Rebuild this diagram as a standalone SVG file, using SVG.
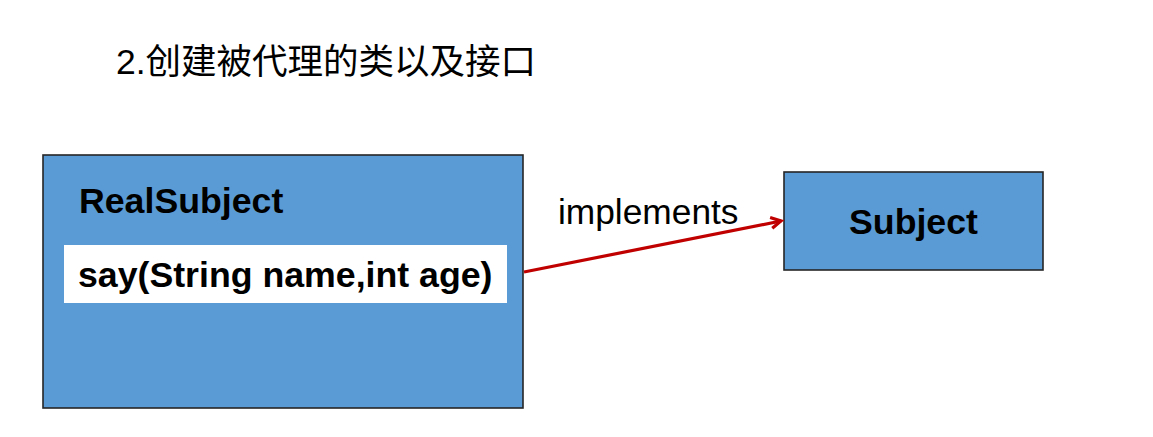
<svg xmlns="http://www.w3.org/2000/svg" width="1153" height="437" viewBox="0 0 1153 437">
<style>
.box{fill:#5B9BD5;stroke:#262626;stroke-width:1.6}
.b{font-family:"Liberation Sans",Arial,sans-serif;font-weight:bold;font-size:35.7px;fill:#000}
.r{font-family:"Liberation Sans",Arial,sans-serif;font-size:35.3px;fill:#000}
.cjk{font-family:"Liberation Sans","Noto Sans CJK SC",sans-serif;font-size:35.5px;fill:#000}
</style>
<defs>
<marker id="arr" markerWidth="14" markerHeight="14" refX="11" refY="7" orient="auto" markerUnits="userSpaceOnUse">
<path d="M1,1.5 L11,7 L1,12.5" fill="none" stroke="#C00000" stroke-width="3.2"/>
</marker>
</defs>
<rect width="1153" height="437" fill="#fff"/>
<text class="cjk" x="116" y="74">2.创建被代理的类以及接口</text>
<g id="realsubject">
<rect class="box" x="43" y="155" width="480" height="253"/>
<text class="b" x="79" y="213">RealSubject</text>
<rect x="64" y="245" width="443" height="58" fill="#fff"/>
<text class="b" x="78" y="287">say(String name,int age)</text>
</g>
<g id="subject">
<rect class="box" x="784" y="172" width="259" height="98"/>
<text class="b" x="913.5" y="234" text-anchor="middle">Subject</text>
</g>
<g id="connectors">
<line x1="524" y1="272" x2="781" y2="221" stroke="#C00000" stroke-width="3.2" marker-end="url(#arr)"/>
<text class="r" x="558" y="224">implements</text>
</g>
</svg>
